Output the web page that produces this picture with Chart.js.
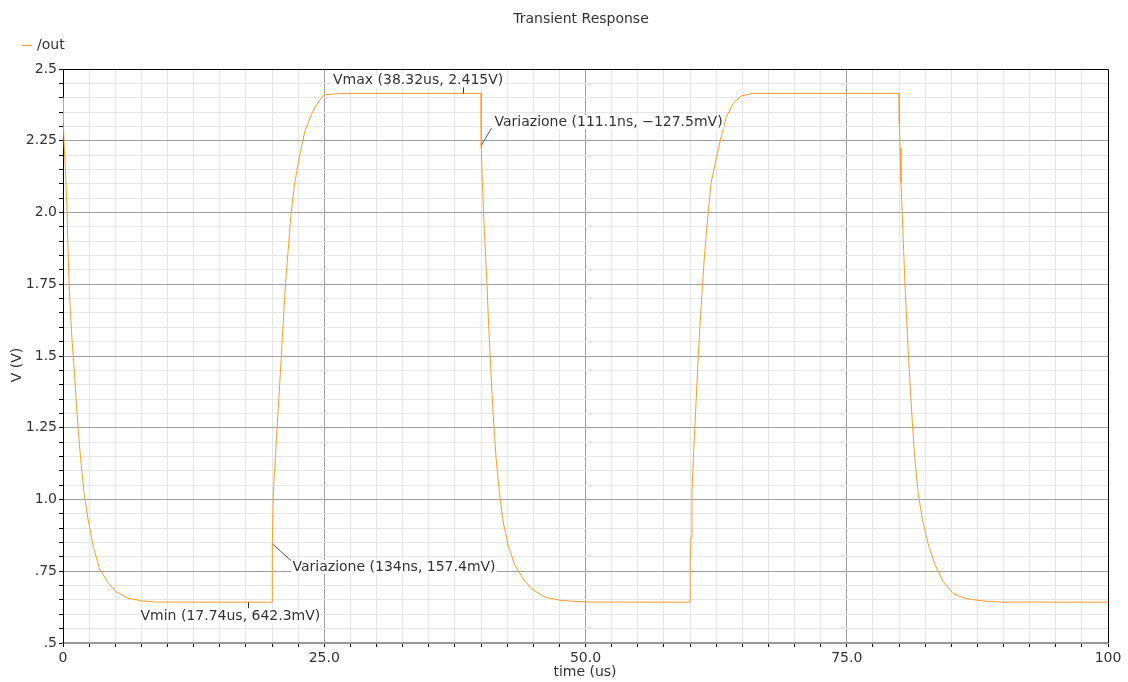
<!DOCTYPE html>
<html>
<head>
<meta charset="utf-8">
<title>Transient Response</title>
<script src="https://cdn.jsdelivr.net/npm/chart.js@4.4.1/dist/chart.umd.min.js"></script>
<style>
  html, body { margin: 0; padding: 0; background: #fff; }
  #wrap { width: 1128px; height: 682px; position: relative; }
</style>
</head>
<body>
<div id="wrap"><canvas id="c" width="1128" height="682"></canvas></div>
<script>
// /out waveform, time in microseconds, voltage in volts, one array pair per edge
const fall0T  = [0, 0.03, 0.1, 0.26, 0.38, 0.48, 0.58, 0.70, 0.86, 1.05, 1.25, 1.44, 1.69, 2.01, 2.40, 2.88, 3.51, 4.31, 5.11, 6.23, 7.51, 8.79, 10.0, 17.74];
const fall0V  = [2.40, 2.31, 2.243, 2.127, 2.011, 1.871, 1.75, 1.663, 1.558, 1.465, 1.349, 1.25, 1.14, 1.024, 0.931, 0.838, 0.757, 0.71, 0.678, 0.656, 0.647, 0.643, 0.6425, 0.6423];
const rise20T = [20.0, 20.03, 20.13, 20.32, 20.51, 20.71, 20.9, 21.09, 21.28, 21.54, 21.79, 22.18, 22.66, 23.14, 23.78, 24.42, 25.0, 26.67, 38.32];
const rise20V = [0.6423, 0.845, 1.024, 1.145, 1.265, 1.385, 1.505, 1.625, 1.744, 1.864, 1.984, 2.104, 2.20, 2.283, 2.343, 2.385, 2.41, 2.415, 2.415];
const fall40T = [40.0, 40.03, 40.13, 40.26, 40.42, 40.58, 40.71, 40.87, 41.03, 41.22, 41.44, 41.76, 42.08, 42.56, 43.2, 44.0, 44.8, 46.1, 47.7, 49.0, 50.5];
const fall40V = [2.415, 2.224, 2.104, 1.984, 1.864, 1.744, 1.625, 1.505, 1.385, 1.265, 1.145, 1.024, 0.930, 0.846, 0.774, 0.726, 0.690, 0.660, 0.648, 0.645, 0.6425];
const rise60T = [60.0, 60.02, 60.1, 60.19, 60.32, 60.48, 60.64, 60.8, 60.99, 61.19, 61.41, 61.7, 62.02, 62.44, 62.88, 63.46, 64.1, 64.9, 66.0, 68.6];
const rise60V = [0.6423, 0.786, 0.87, 1.026, 1.145, 1.265, 1.385, 1.505, 1.625, 1.744, 1.864, 1.984, 2.104, 2.176, 2.248, 2.331, 2.379, 2.406, 2.415, 2.415];
const fall80T = [80.0, 80.03, 80.1, 80.19, 80.32, 80.45, 80.58, 80.74, 80.9, 81.09, 81.28, 81.51, 81.83, 82.24, 82.79, 83.43, 84.23, 85.19, 86.47, 88.4, 90.0, 100.0];
const fall80V = [2.415, 2.308, 2.224, 2.104, 1.984, 1.864, 1.744, 1.625, 1.505, 1.385, 1.265, 1.145, 1.024, 0.930, 0.846, 0.774, 0.714, 0.672, 0.654, 0.645, 0.6425, 0.6423];

// tick labels
const xTickValues = [0, 25, 50, 75, 100];
const xTickText   = ['0', '25.0', '50.0', '75.0', '100'];
const yTickValues = [2.5, 2.25, 2.0, 1.75, 1.5, 1.25, 1.0, 0.75, 0.5];
const yTickText   = ['2.5', '2.25', '2.0', '1.75', '1.5', '1.25', '1.0', '.75', '.5'];

// markers: [time, volts]
const vmaxPoint = [38.32, 2.415];
const vminPoint = [17.74, 0.6423];
const deltaRisePoint = [20.05, 0.845];
const deltaFallPoint = [40.05, 2.235];
const vmaxText = 'Vmax (38.32us, 2.415V)';
const vminText = 'Vmin (17.74us, 642.3mV)';
const deltaRiseText = 'Variazione (134ns, 157.4mV)';
const deltaFallText = 'Variazione (111.1ns, \u2212127.5mV)';

const FONT = '"DejaVu Sans", Verdana, sans-serif';
const FSIZE = 14;
const TEXT = '#333';
const LINE = '#ff9a2e';

function toPoints(ts, vs) { return ts.map((t, i) => ({ x: t, y: vs[i] })); }
const outPoints = [].concat(
  toPoints(fall0T, fall0V), toPoints(rise20T, rise20V), toPoints(fall40T, fall40V),
  toPoints(rise60T, rise60V), toPoints(fall80T, fall80V)
);

function labelFor(values, texts, v) {
  for (let i = 0; i < values.length; i++) if (Math.abs(values[i] - v) < 1e-6) return texts[i];
  return '';
}
function isMajor(values, v) { return labelFor(values, values.map(String), v) !== ''; }

function boxedText(ctx, txt, x, cy) {
  ctx.font = FSIZE + 'px ' + FONT;
  const w = ctx.measureText(txt).width;
  ctx.fillStyle = '#fff';
  ctx.fillRect(x - 1, cy - 7, w + 2, 14);
  ctx.fillStyle = TEXT;
  ctx.textAlign = 'left';
  ctx.textBaseline = 'middle';
  ctx.fillText(txt, x, cy);
}

const decorations = {
  id: 'decorations',
  afterDraw(chart) {
    const ctx = chart.ctx;
    const xs = chart.scales.x, ys = chart.scales.y;
    const a = chart.chartArea;
    ctx.save();

    // frame top and right
    ctx.strokeStyle = '#000';
    ctx.lineWidth = 1;
    ctx.beginPath();
    ctx.moveTo(Math.round(a.left) + 0.5, Math.round(a.top) + 0.5);
    ctx.lineTo(Math.round(a.right) + 0.5, Math.round(a.top) + 0.5);
    ctx.lineTo(Math.round(a.right) + 0.5, Math.round(a.bottom));
    ctx.stroke();

    // title
    ctx.fillStyle = TEXT;
    ctx.font = FSIZE + 'px ' + FONT;
    ctx.textAlign = 'center';
    ctx.textBaseline = 'middle';
    ctx.fillText('Transient Response', 581, 19);

    // legend
    ctx.strokeStyle = LINE;
    ctx.beginPath();
    ctx.moveTo(22, 45.5); ctx.lineTo(32, 45.5);
    ctx.stroke();
    ctx.textAlign = 'left';
    ctx.fillText('/out', 37, 45);

    // axis titles
    ctx.textAlign = 'center';
    ctx.fillText('time (us)', 585, 672);
    ctx.save();
    ctx.translate(17, 365);
    ctx.rotate(-Math.PI / 2);
    ctx.fillText('V (V)', 0, 0);
    ctx.restore();

    // markers
    ctx.strokeStyle = '#333';
    ctx.lineWidth = 1;
    const pmx = Math.round(xs.getPixelForValue(vmaxPoint[0])) + 0.5;
    const pmy = ys.getPixelForValue(vmaxPoint[1]);
    ctx.beginPath(); ctx.moveTo(pmx, pmy - 7); ctx.lineTo(pmx, pmy); ctx.stroke();
    boxedText(ctx, vmaxText, pmx - 130.5, pmy - 13);

    const pnx = Math.round(xs.getPixelForValue(vminPoint[0])) + 0.5;
    const pny = ys.getPixelForValue(vminPoint[1]);
    ctx.strokeStyle = '#333';
    ctx.beginPath(); ctx.moveTo(pnx, pny); ctx.lineTo(pnx, pny + 6); ctx.stroke();
    boxedText(ctx, vminText, pnx - 108, pny + 14);

    const drx = xs.getPixelForValue(deltaRisePoint[0]);
    const dry = ys.getPixelForValue(deltaRisePoint[1]);
    ctx.strokeStyle = '#555';
    ctx.beginPath(); ctx.moveTo(drx, dry); ctx.lineTo(drx + 19, dry + 17); ctx.stroke();
    boxedText(ctx, deltaRiseText, drx + 20, dry + 23);

    const dfx = xs.getPixelForValue(deltaFallPoint[0]);
    const dfy = ys.getPixelForValue(deltaFallPoint[1]);
    ctx.strokeStyle = '#555';
    ctx.beginPath(); ctx.moveTo(dfx, dfy); ctx.lineTo(dfx + 10, dfy - 17); ctx.stroke();
    boxedText(ctx, deltaFallText, dfx + 13, dfy - 23);

    ctx.restore();
  }
};

new Chart(document.getElementById('c'), {
  type: 'line',
  data: {
    datasets: [{
      label: '/out',
      data: outPoints,
      borderColor: LINE,
      borderWidth: 1,
      pointRadius: 0,
      tension: 0,
      fill: false
    }]
  },
  options: {
    responsive: false,
    animation: false,
    events: [],
    layout: { padding: { left: 0, right: 20, top: 69, bottom: 0 } },
    plugins: {
      legend: { display: false },
      title: { display: false },
      tooltip: { enabled: false }
    },
    scales: {
      x: {
        type: 'linear',
        min: 0, max: 100,
        afterFit(s) { s.height = 39; },
        border: { display: true, color: '#999', width: 2 },
        grid: {
          color: (c) => (c.tick && isMajor(xTickValues, c.tick.value) && c.tick.value > 0 && c.tick.value < 100) ? '#a0a0a0' : '#e6e6e6',
          tickColor: '#000',
          tickLength: 4,
          drawTicks: true
        },
        ticks: {
          stepSize: 2.5,
          autoSkip: false,
          maxRotation: 0,
          padding: 3,
          color: TEXT,
          font: { family: FONT, size: FSIZE },
          callback: (v) => labelFor(xTickValues, xTickText, v)
        }
      },
      y: {
        type: 'linear',
        min: 0.5, max: 2.5,
        afterFit(s) { s.width = 63; },
        border: { display: true, color: '#000', width: 1 },
        grid: {
          color: (c) => (c.tick && isMajor(yTickValues, c.tick.value)) ? '#a0a0a0' : '#e6e6e6',
          tickColor: '#000',
          tickLength: 4,
          drawTicks: true
        },
        ticks: {
          stepSize: 0.05,
          autoSkip: false,
          maxTicksLimit: 1000,
          padding: 2,
          color: TEXT,
          font: { family: FONT, size: FSIZE },
          callback: (v) => labelFor(yTickValues, yTickText, v)
        }
      }
    }
  },
  plugins: [decorations]
});
</script>
</body>
</html>
